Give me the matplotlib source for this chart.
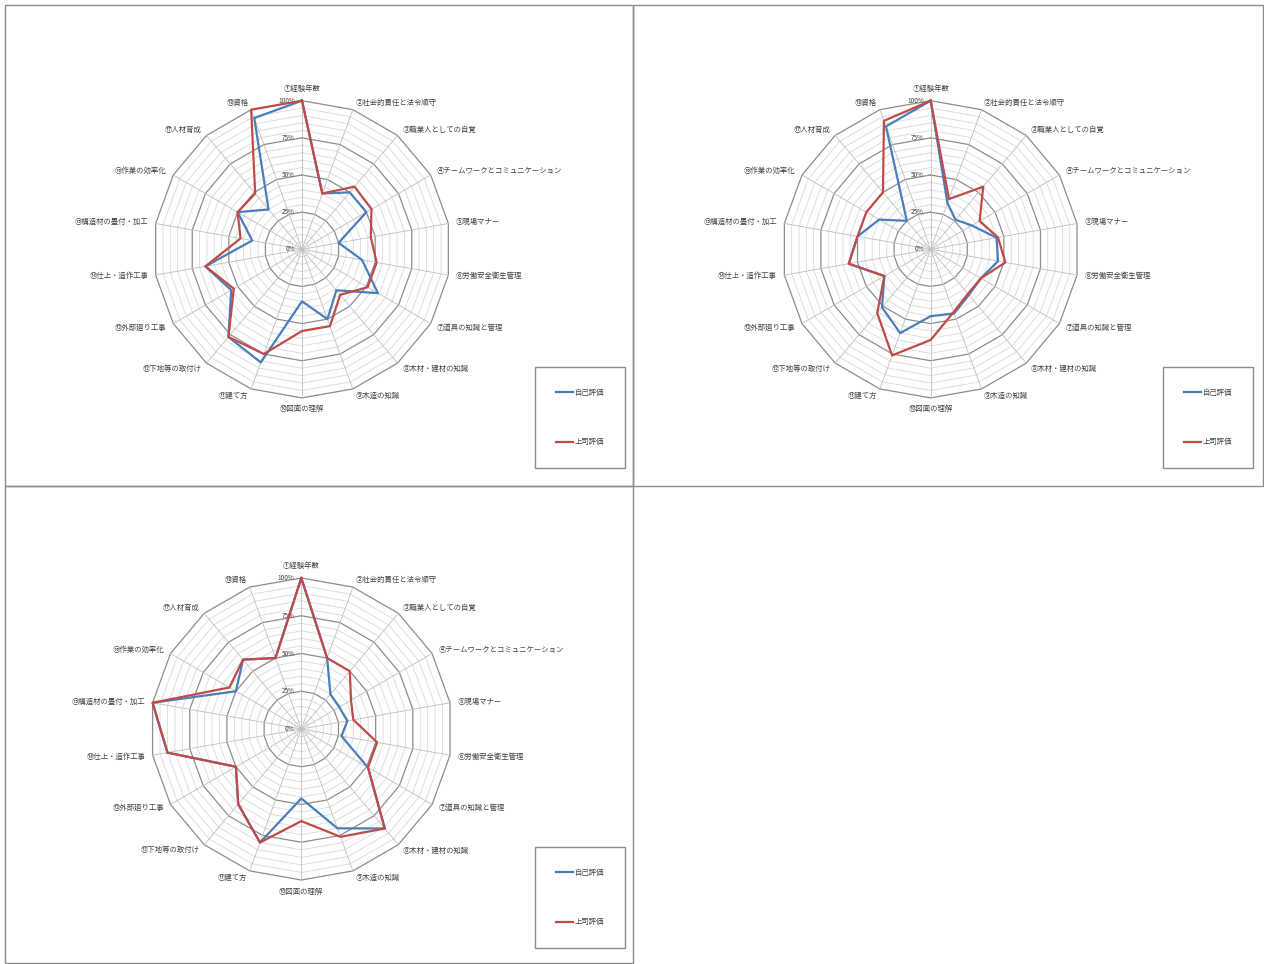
import matplotlib
matplotlib.use('Agg')
import matplotlib.pyplot as plt
from matplotlib.patches import Rectangle
from matplotlib.lines import Line2D
import numpy as np

plt.rcParams['font.family'] = ['Noto Sans CJK JP', 'DejaVu Sans']

labels = ['①経験年数', '②社会的責任と法令順守', '③職業人としての自覚',
          '④チームワークとコミュニケーション', '⑤現場マナー', '⑥労働安全衛生管理',
          '⑦道具の知識と管理', '⑧木材・建材の知識', '⑨木造の知識', '⑩図面の理解',
          '⑪建て方', '⑫下地等の取付け', '⑬外部廻り工事', '⑭仕上・造作工事',
          '⑮構造材の墨付・加工', '⑯作業の効率化', '⑰人材育成', '⑱資格']
series_names = ['自己評価', '上司評価']
tick_values = [0, 25, 50, 75, 100]

# values in %
self1 = [100, 40, 50, 50, 25, 41, 59, 36, 50, 35, 81, 77, 55, 66, 34, 50, 35, 94]
boss1 = [100, 40, 55, 54, 47, 51, 51, 40, 55, 55, 75, 77, 53, 66, 42, 50, 49, 100]

self2 = [100, 33, 26, 32, 45, 46, 39, 40, 46, 45, 60, 51, 36, 56, 50, 40, 25, 88]
boss2 = [100, 36, 55, 38, 46, 51, 39, 39, 45, 61, 76, 56, 36, 56, 50, 50, 50, 92]

self3 = [100, 50, 30, 29, 31, 27, 51, 86, 70, 46, 80, 65, 50, 90, 100, 50, 60, 50]
boss3 = [100, 50, 50, 38, 35, 51, 51, 86, 76, 61, 80, 65, 50, 90, 100, 55, 60, 50]

W, H = 1264, 964
BLUE = '#4A7EBB'
RED = '#BE4B48'
TEXT = '#404040'


def px_rect(x0, y0, x1, y1):
    return [x0 / W, 1 - y1 / H, (x1 - x0) / W, (y1 - y0) / H]


def radar(fig, cx, cy, R, self_vals, boss_vals):
    ax = fig.add_axes(px_rect(cx - R, cy - R, cx + R, cy + R), projection='polar')
    ax.set_theta_zero_location('N')
    ax.set_theta_direction(-1)
    ax.set_ylim(0, 100)
    ax.axis('off')

    n = len(labels)
    theta = np.arange(n) * 2 * np.pi / n
    closed = np.append(theta, theta[0])

    # polygon grid, minor every 5%, major every 25%
    for r in range(5, 101, 5):
        major = r % 25 == 0
        ax.plot(closed, [r] * (n + 1), color='#8C8C8C' if major else '#D9D9D9',
                lw=0.9 if major else 0.6, zorder=1, clip_on=False)
    for t in theta:
        ax.plot([t, t], [0, 100], color='#BFBFBF', lw=0.6, zorder=1, clip_on=False)

    ax.plot(closed, np.append(self_vals, self_vals[0]), color=BLUE, lw=1.6,
            zorder=3, clip_on=False)
    ax.plot(closed, np.append(boss_vals, boss_vals[0]), color=RED, lw=1.6,
            zorder=4, clip_on=False)

    for t, lab in zip(theta, labels):
        s = np.sin(t)
        ha = 'left' if s > 0.01 else ('right' if s < -0.01 else 'center')
        c = np.cos(t)
        va = 'bottom' if c > 0.99 else ('top' if c < -0.99 else 'center')
        ax.text(t, 105, lab, ha=ha, va=va, fontsize=5.3, color=TEXT)

    for v in tick_values:
        ax.annotate(f'{v}%', xy=(0, v), xytext=(-5, 0), textcoords='offset points',
                    ha='right', va='center', fontsize=4.6, color=TEXT)
    return ax


def legend_box(fig, x0, y0, x1, y1):
    fig.add_artist(Rectangle((x0 / W, 1 - y1 / H), (x1 - x0) / W, (y1 - y0) / H,
                             transform=fig.transFigure, fill=False,
                             ec='#8C8C8C', lw=1))
    handles = [Line2D([], [], color=BLUE, lw=1.6), Line2D([], [], color=RED, lw=1.6)]
    fig.legend(handles, series_names, loc='center',
               bbox_to_anchor=((x0 + x1) / 2 / W, 1 - (y0 + y1) / 2 / H),
               frameon=False, fontsize=5.3, labelspacing=5.6,
               handlelength=2.3, handletextpad=0.2, labelcolor=TEXT)


def main():
    fig = plt.figure(figsize=(W / 100, H / 100), dpi=100)

    # panel borders
    for x0, y0, x1, y1 in [(5, 5, 633, 486), (633, 5, 1263, 486), (5, 486, 633, 963)]:
        fig.add_artist(Rectangle((x0 / W, 1 - y1 / H), (x1 - x0) / W, (y1 - y0) / H,
                                 transform=fig.transFigure, fill=False,
                                 ec='#8C8C8C', lw=1))

    radar(fig, 302, 249.3, 148.6, self1, boss1)
    radar(fig, 930.7, 249.3, 148.6, self2, boss2)
    radar(fig, 301.3, 729, 151, self3, boss3)

    legend_box(fig, 535, 367, 625, 468)
    legend_box(fig, 1163, 367, 1253, 468)
    legend_box(fig, 535, 847, 625, 948)

    fig.savefig('out.png', dpi=100)


if __name__ == "__main__":
    main()
